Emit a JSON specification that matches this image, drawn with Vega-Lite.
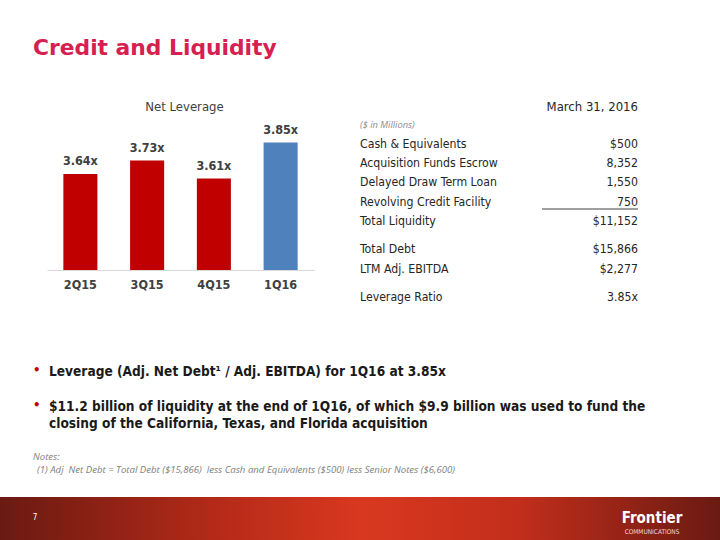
{
  "$schema": "https://vega.github.io/schema/vega-lite/v6.json",
  "background": "white",
  "padding": {"left": 0, "top": 38, "right": 0, "bottom": 0},
  "title": {"text": "Credit and Liquidity", "anchor": "start", "frame": "group", "dx": 33, "font": "DejaVu Sans", "fontSize": 21.8, "fontWeight": "bold", "color": "#D6204F", "offset": 41},
  "config": {"view": {"stroke": null}, "font": "DejaVu Sans Condensed"},
  "spacing": 0,
  "vconcat": [
    {
      "spacing": 46,
      "hconcat": [
        {"width": 1, "height": 10, "data": {"values": []}, "mark": "point", "encoding": {}},
        {
          "width": 267,
          "height": 150,
          "title": {"text": "Net Leverage", "font": "DejaVu Sans Condensed", "fontSize": 13, "fontWeight": "normal", "color": "#404040", "offset": 6, "dx": 4},
          "data": {"values": [
            {"quarter": "2Q15", "leverage": 3.64, "label": "3.64x", "period": "prior"},
            {"quarter": "3Q15", "leverage": 3.73, "label": "3.73x", "period": "prior"},
            {"quarter": "4Q15", "leverage": 3.61, "label": "3.61x", "period": "prior"},
            {"quarter": "1Q16", "leverage": 3.85, "label": "3.85x", "period": "current"}
          ]},
          "encoding": {
            "x": {"field": "quarter", "type": "nominal", "sort": null,
                  "scale": {"paddingInner": 0.49, "paddingOuter": 0.245},
                  "axis": {"title": null, "labelAngle": 0, "ticks": false, "grid": false, "domainColor": "#D9D9D9", "labelFont": "DejaVu Sans Condensed", "labelFontWeight": "bold", "labelFontSize": 12.5, "labelColor": "#404040", "labelPadding": 8}},
            "y": {"field": "leverage", "type": "quantitative", "scale": {"domain": [3, 4], "zero": false}, "axis": null}
          },
          "layer": [
            {"mark": {"type": "bar"},
             "encoding": {
               "y2": {"datum": 3},
               "color": {"field": "period", "type": "nominal", "scale": {"domain": ["prior", "current"], "range": ["#C00000", "#4F81BD"]}, "legend": null}}},
            {"mark": {"type": "text", "baseline": "bottom", "dy": -6, "fontWeight": "bold", "fontSize": 12.5, "color": "#404040"},
             "encoding": {"text": {"field": "label", "type": "nominal"}}}
          ]
        },
        {
          "width": 278,
          "height": 187,
          "encoding": {
            "y": {"field": "slot", "type": "quantitative", "scale": {"domain": [-2.5, 17], "reverse": true}, "axis": null}
          },
          "layer": [
            {
              "data": {"values": [{"slot": -4, "heading": "March 31, 2016"}]},
              "mark": {"type": "text", "align": "right", "dy": 1.5, "fontSize": 13, "color": "#262626"},
              "encoding": {
                "x": {"datum": "Amount", "type": "nominal", "scale": {"type": "point", "domain": ["Item", "Amount"], "padding": 0}, "axis": null},
                "text": {"field": "heading", "type": "nominal"}
              }
            },
            {
              "data": {"values": [{"slot": -2, "heading": "($ in Millions)"}]},
              "mark": {"type": "text", "align": "left", "fontSize": 9.3, "fontStyle": "italic", "font": "Open Sans", "color": "#8C8C8C"},
              "encoding": {
                "x": {"datum": "Item", "type": "nominal"},
                "text": {"field": "heading", "type": "nominal"}
              }
            },
            {
              "data": {"name": "table", "values": [
                {"slot": 0, "item": "Cash & Equivalents", "amount": "$500"},
                {"slot": 2, "item": "Acquisition Funds Escrow", "amount": "8,352"},
                {"slot": 4, "item": "Delayed Draw Term Loan", "amount": "1,550"},
                {"slot": 6, "item": "Revolving Credit Facility", "amount": "750"},
                {"slot": 8, "item": "Total Liquidity", "amount": "$11,152"},
                {"slot": 11, "item": "Total Debt", "amount": "$15,866"},
                {"slot": 13, "item": "LTM Adj. EBITDA", "amount": "$2,277"},
                {"slot": 16, "item": "Leverage Ratio", "amount": "3.85x"}
              ]},
              "layer": [
                {"mark": {"type": "text", "align": "left", "fontSize": 12.2, "color": "#262626"},
                 "encoding": {"x": {"datum": "Item", "type": "nominal"}, "text": {"field": "item", "type": "nominal"}}},
                {"mark": {"type": "text", "align": "right", "fontSize": 12.2, "color": "#262626"},
                 "encoding": {"x": {"datum": "Amount", "type": "nominal"}, "text": {"field": "amount", "type": "nominal"}}},
                {"transform": [{"filter": "datum.slot == 6"}],
                 "mark": {"type": "rule", "xOffset": -96, "yOffset": 7.5, "stroke": "#7F7F7F", "strokeWidth": 1.5},
                 "encoding": {"x": {"datum": "Amount", "type": "nominal"}, "x2": {"datum": "Amount"}}}
              ]
            }
          ]
        }
      ]
    },
    {
      "width": 720,
      "height": 130,
      "data": {"values": [
        {"line": 0, "bullet": "•", "text": "Leverage (Adj. Net Debt¹ / Adj. EBITDA) for 1Q16 at 3.85x"},
        {"line": 2, "bullet": "•", "text": "$11.2 billion of liquidity at the end of 1Q16, of which $9.9 billion was used to fund the"},
        {"line": 3, "bullet": "", "text": "closing of the California, Texas, and Florida acquisition"}
      ]},
      "encoding": {
        "y": {"field": "line", "type": "quantitative", "scale": {"domain": [-3.76, 3.76], "reverse": true}, "axis": null}
      },
      "layer": [
        {"mark": {"type": "text", "x": 33, "align": "left", "dy": -2, "fontSize": 13, "fontWeight": "bold", "color": "#C00000"},
         "encoding": {"text": {"field": "bullet", "type": "nominal"}}},
        {"mark": {"type": "text", "x": 49, "align": "left", "fontSize": 13.6, "fontWeight": "bold", "color": "#1A1A1A"},
         "encoding": {"text": {"field": "text", "type": "nominal"}}}
      ]
    },
    {
      "width": 720,
      "height": 60,
      "data": {"values": [
        {"line": 0, "text": "Notes:"},
        {"line": 1, "text": "(1) Adj\u00a0 Net Debt = Total Debt ($15,866)\u00a0 less Cash and Equivalents ($500) less Senior Notes ($6,600)"}
      ]},
      "encoding": {
        "y": {"field": "line", "type": "quantitative", "scale": {"domain": [-1.54, 3.08], "reverse": true}, "axis": null},
        "text": {"field": "text", "type": "nominal"}
      },
      "layer": [
        {"transform": [{"filter": "datum.line == 0"}],
         "mark": {"type": "text", "x": 33, "align": "left", "font": "Open Sans", "fontStyle": "italic", "fontSize": 9.6, "color": "#808080"}},
        {"transform": [{"filter": "datum.line == 1"}],
         "mark": {"type": "text", "x": 37, "align": "left", "font": "Open Sans", "fontStyle": "italic", "fontSize": 9.6, "color": "#808080"}}
      ]
    },
    {
      "width": 720,
      "height": 43,
      "data": {"values": [{"page": "7", "brand": "Frontier", "sub": "COMMUNICATIONS"}]},
      "layer": [
        {"mark": {"type": "rect", "color": {"gradient": "linear", "x1": 0, "x2": 1, "y1": 0, "y2": 0, "stops": [
            {"offset": 0, "color": "#6A1A12"}, {"offset": 0.3, "color": "#B42A18"}, {"offset": 0.5, "color": "#D9381F"}, {"offset": 0.72, "color": "#C22E1B"}, {"offset": 1, "color": "#6A1A12"}]}},
         "encoding": {
           "x": {"field": "brand", "type": "nominal", "scale": {"paddingInner": 0, "paddingOuter": 0}, "axis": null},
           "y": {"field": "sub", "type": "nominal", "scale": {"paddingInner": 0, "paddingOuter": 0}, "axis": null}
         }},
        {"mark": {"type": "text", "x": 35, "y": 21, "align": "center", "fontSize": 8, "color": "#FFFFFF"},
         "encoding": {"text": {"field": "page", "type": "nominal"}}},
        {"mark": {"type": "text", "x": 652, "y": 26, "align": "center", "baseline": "alphabetic", "fontSize": 15, "fontWeight": "bold", "color": "#FFFFFF"},
         "encoding": {"text": {"field": "brand", "type": "nominal"}}},
        {"mark": {"type": "text", "x": 652, "y": 36.5, "align": "center", "baseline": "alphabetic", "fontSize": 6.5, "color": "#F2D6D0"},
         "encoding": {"text": {"field": "sub", "type": "nominal"}}}
      ]
    }
  ]
}
